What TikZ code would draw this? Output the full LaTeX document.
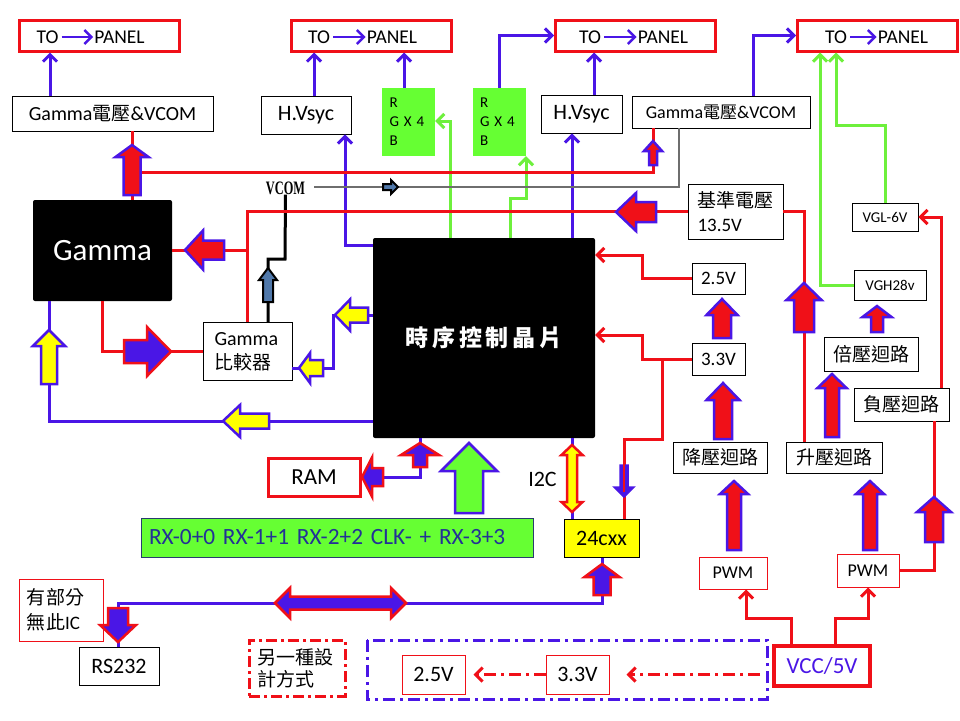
\documentclass[tikz,border=0pt]{standalone}
\usepackage{fontspec}
\setmainfont{Carlito}
\newfontfamily\cjk{Noto Sans CJK TC}
\newfontfamily\vcomfont{Liberation Serif}
\usetikzlibrary{arrows.meta,calc}
\definecolor{myred}{RGB}{240,16,24}
\definecolor{myblue}{RGB}{74,22,230}
\definecolor{mygreen}{RGB}{102,255,51}
\definecolor{lgreen}{RGB}{110,240,60}
\definecolor{myyellow}{RGB}{255,255,0}
\definecolor{navytext}{RGB}{35,50,150}
\definecolor{navyline}{RGB}{40,60,110}
\definecolor{steel}{RGB}{80,120,170}
\definecolor{vgray}{RGB}{110,110,110}
\newcommand{\fsz}[2]{\fontsize{#1}{#2}\selectfont}
\newcommand{\farrow}[8]{%
 \begin{scope}[shift={(#2,#3)},rotate=#4]
 \draw[#1] (0,-#6/2) -- (#5-#8,-#6/2) -- (#5-#8,-#7/2) -- (#5,0) -- (#5-#8,#7/2) -- (#5-#8,#6/2) -- (0,#6/2) -- cycle;
 \end{scope}}
\newcommand{\dfarrow}[8]{%
 \begin{scope}[shift={(#2,#3)},rotate=#4]
 \draw[#1] (0,0) -- (#8,-#7/2) -- (#8,-#6/2) -- (#5-#8,-#6/2) -- (#5-#8,-#7/2) -- (#5,0) -- (#5-#8,#7/2) -- (#5-#8,#6/2) -- (#8,#6/2) -- (#8,#7/2) -- cycle;
 \end{scope}}
\tikzset{
 rline/.style={draw=myred,line width=3pt},
 bline/.style={draw=myblue,line width=3pt},
 gline/.style={draw=lgreen,line width=3pt},
 barb/.style={-{Straight Barb[length=7pt,width=14pt]}},
 panel/.style={draw=myred,line width=3pt,minimum width=160pt,minimum height=31pt,inner sep=0pt},
 ptxt/.style={font=\fsz{19.5}{23},inner sep=1pt},
 wbox/.style={draw=black,line width=0.9pt,fill=white,inner sep=0pt},
 rbox/.style={draw=myred,line width=1pt,fill=white,inner sep=0pt},
 rgbbox/.style={fill=mygreen,minimum width=53pt,minimum height=68pt,inner sep=0pt,text width=38pt,align=left,font=\fsz{15}{19}},
 rbarrow/.style={fill=myred,draw=myblue,line width=2.5pt,line join=miter},
 brarrow/.style={fill=myblue,draw=myred,line width=2.5pt,line join=miter},
 ybarrow/.style={fill=myyellow,draw=myblue,line width=2.5pt,line join=miter},
 yrarrow/.style={fill=myyellow,draw=myred,line width=2.5pt,line join=miter},
 gbarrow/.style={fill=mygreen,draw=myblue,line width=2.5pt,line join=miter},
 sbarrow/.style={fill=steel,draw=black,line width=2pt,line join=miter},
 bbarrow/.style={fill=myblue,draw=myblue,line width=1.5pt,line join=miter},
}
\begin{document}
\begin{tikzpicture}[x=1pt,y=-1pt]
\useasboundingbox (0,0) rectangle (960,720);
\fill[white] (0,0) rectangle (960,720);

% ---------- TO PANEL boxes
\node[panel] (P1) at (99,35.5) {};
\node[ptxt] (p1to) at (47.5,37) {TO};
\node[ptxt] (p1pn) at (119.5,37) {PANEL};
\node[panel] (P2) at (371,35.5) {};
\node[ptxt] (p2to) at (319,37) {TO};
\node[ptxt] (p2pn) at (392,37) {PANEL};
\node[panel] (P3) at (635.5,35.5) {};
\node[ptxt] (p3to) at (590,37) {TO};
\node[ptxt] (p3pn) at (663,37) {PANEL};
\node[panel] (P4) at (877.5,35.5) {};
\node[ptxt] (p4to) at (836,37) {TO};
\node[ptxt] (p4pn) at (903,37) {PANEL};
\foreach \i in {1,2,3,4}{
 \draw[bline,line width=2.5pt,barb,shorten <=2pt] (p\i to.east) -- (p\i pn.west);
}

% ---------- upper boxes
\node[wbox,minimum width=201pt,minimum height=35pt,font=\fsz{20}{24}] (gv1) at (112.5,113.5) {Gamma{\cjk\fsz{19}{24}電壓}\&VCOM};
\node[wbox,minimum width=178pt,minimum height=32pt,font=\fsz{18}{22}] (gv2) at (721,112) {Gamma{\cjk\fsz{17}{22}電壓}\&VCOM};
\node[wbox,minimum width=90pt,minimum height=38pt,font=\fsz{22}{26}] (hv1) at (306,115) {H.Vsyc};
\node[wbox,minimum width=81pt,minimum height=38pt,font=\fsz{22}{26}] (hv2) at (581.5,114) {H.Vsyc};
\node[rgbbox] (rgb1) at (408.5,122) {R\\G X 4\\B};
\node[rgbbox] (rgb2) at (499,122) {R\\G X 4\\B};

% ---------- left blocks
\node[fill=black,rounded corners=2pt,minimum width=139pt,minimum height=101pt,text=white,font=\fsz{31}{36}] (gamma) at (102.5,250.5) {Gamma};
\node[wbox,minimum width=89pt,minimum height=58pt,text width=66pt,align=left,font=\fsz{20}{24}] (cmp) at (247.5,351.5) {Gamma\\{\cjk\fsz{19}{24}比較器}};
\node[fill=black,rounded corners=2pt,minimum width=222pt,minimum height=200pt,text=white,font=\cjk\bfseries\fsz{23}{28}] (chip) at (484,338) {時\,序\,控\,制\,晶\,片};
\node[font=\vcomfont\bfseries\fsz{19}{22},xscale=0.65,inner sep=0pt] (vcoml) at (285.5,188) {VCOM};

% ---------- right blocks
\node[wbox,minimum width=95pt,minimum height=55pt,text width=76pt,align=left,font=\fsz{19}{24}] (ref) at (735.5,211.5) {{\cjk 基準電壓}\\13.5V};
\node[wbox,minimum width=53pt,minimum height=31pt,font=\fsz{19}{23}] (v25) at (718.5,278.5) {2.5V};
\node[wbox,minimum width=53pt,minimum height=32pt,font=\fsz{19}{23}] (v33) at (718.5,359) {3.3V};
\node[wbox,minimum width=94pt,minimum height=31pt,font=\cjk\fsz{19}{23}] (dn) at (720,457.5) {降壓迴路};
\node[wbox,minimum width=96pt,minimum height=31pt,font=\cjk\fsz{19}{23}] (upb) at (834,457.5) {升壓迴路};
\node[wbox,minimum width=94pt,minimum height=34pt,font=\cjk\fsz{19}{23}] (dbl) at (871,354) {倍壓迴路};
\node[wbox,minimum width=95pt,minimum height=33pt,font=\cjk\fsz{19}{23}] (neg) at (901.5,404.5) {負壓迴路};
\node[wbox,minimum width=72pt,minimum height=30pt,font=\fsz{15}{18}] (vgh) at (890,285) {VGH28v};
\node[wbox,minimum width=66pt,minimum height=28pt,font=\fsz{15}{18}] (vgl) at (885,217) {VGL-6V};
\node[rbox,minimum width=68pt,minimum height=32pt,font=\fsz{18}{22}] (pwm1) at (733,573) {PWM};
\node[rbox,minimum width=62pt,minimum height=33pt,font=\fsz{18}{22}] (pwm2) at (868,570.5) {PWM};
\node[draw=myred,fill=white,line width=3.5pt,inner sep=0pt,minimum width=96pt,minimum height=40pt,text=myblue,font=\fsz{23}{27}] (vcc) at (822,666) {VCC/5V};

% ---------- bottom blocks
\node[draw=myred,fill=white,line width=3pt,inner sep=0pt,minimum width=92pt,minimum height=38pt,font=\fsz{23}{27}] (ram) at (314,477) {RAM};
\node[fill=mygreen,draw=navyline,line width=1pt,inner sep=0pt,minimum width=392pt,minimum height=39pt,text width=376pt,align=left,text=navytext,font=\fsz{23.3}{28}] (rx) at (337,537.5) {RX-0+0 RX-1+1 RX-2+2 CLK- + RX-3+3};
\node[fill=myyellow,draw=black,line width=1pt,inner sep=0pt,minimum width=75pt,minimum height=38pt,font=\fsz{22}{26}] (eep) at (601.5,538) {24cxx};
\node[font=\fsz{22}{26},inner sep=0pt] (i2c) at (542.5,479) {I2C};
\node[rbox,minimum width=84pt,minimum height=62pt,text width=68pt,align=left,font=\fsz{19}{25}] (note) at (61,610) {{\cjk 有部分}\\{\cjk 無此}IC};
\node[wbox,minimum width=80pt,minimum height=38pt,font=\fsz{22}{26}] (rs) at (119,666) {RS232};
\node[draw=myred,line width=3pt,dash pattern=on 11pt off 4pt on 3pt off 4pt,inner sep=0pt,minimum width=96pt,minimum height=56pt,text width=80pt,align=left,font=\cjk\fsz{19}{22}] (alt) at (297,668) {另一種設\\計方式};
\draw[draw=myblue,line width=3pt,dash pattern=on 12pt off 5pt on 3pt off 5pt] (367,640) rectangle (767,699);
\node[rbox,minimum width=63pt,minimum height=39pt,font=\fsz{22}{26}] (v25b) at (433.5,674.5) {2.5V};
\node[rbox,minimum width=63pt,minimum height=39pt,font=\fsz{22}{26}] (v33b) at (577.5,674.5) {3.3V};
\coordinate (ddstart) at (760,674.5);

% ---------- connectors: blue
\draw[bline,barb] (50,0 |- gv1.north) -- (50,0 |- P1.south);
\draw[bline,barb] (314,0 |- hv1.north) -- (314,0 |- P2.south);
\draw[bline,barb] (404,0 |- rgb1.north) -- (404,0 |- P2.south);
\draw[bline,barb] (499,0 |- rgb2.north) |- (P3.west);
\draw[bline,barb] (594,0 |- hv2.north) -- (594,0 |- P3.south);
\draw[bline,barb] (753,0 |- gv2.north) |- (P4.west);
\draw[bline,barb] (chip.west |- 0,245) -| (345,0 |- hv1.south);
\draw[bline,barb] (572,0 |- chip.north) -- (572,0 |- hv2.south);
\draw[bline] (chip.west |- 0,315) -- (333,315) -- (333,368) -- (cmp.east |- 0,368);
\draw[bline] (chip.west |- 0,421) -| (49,0 |- gamma.south);
\draw[bline] (420,0 |- chip.south) |- (ram.east);
\draw[bline] (572,0 |- chip.south) -- (572,0 |- eep.north);
\draw[bline] (602,0 |- eep.south) |- (118,603) -- (118,0 |- rs.north);

% ---------- connectors: green
\draw[gline,barb] (450,0 |- chip.north) |- (rgb1.east |- 0,121);
\draw[gline,barb] (510,0 |- chip.north) -- (510,198) -| (526,0 |- rgb2.south);
\draw[gline,barb] (vgh.west) -| (820,0 |- P4.south);
\draw[gline,barb] (885,0 |- vgl.north) -- (885,125) -- (836,125) -- (836,0 |- P4.south);

% ---------- connectors: gray / black (VCOM)
\draw[vgray,line width=2pt] (679,0 |- gv2.south) |- (314,187);
\draw[black,line width=3pt] (268,0 |- cmp.north) |- (285,259) -- (vcoml.south);

% ---------- connectors: red
\draw[rline] (132,0 |- gamma.north) -- (132,0 |- gv1.south);
\draw[rline] (132,172) -| (653,0 |- gv2.south);
\draw[rline] (ref.west) -- (247,0 |- ref.west) -- (247,0 |- cmp.north);
\draw[rline] (gamma.east |- 0,250) -- (247,250);
\draw[rline] (102,0 |- gamma.south) |- (cmp.west);
\draw[rline] (ref.east) -| (804,0 |- upb.north);
\draw[rline,barb] (v25.west) -| (642,255) -- (chip.east |- 0,255);
\draw[rline,barb] (v33.west) -| (642,335) -- (chip.east |- 0,335);
\draw[rline] (662,0 |- v33.west) -- (662,439) -| (624,0 |- eep.north);
\draw[rline,barb] (941,0 |- neg.north) |- (vgl.east);
\draw[rline] (934,0 |- neg.south) |- (pwm2.east);
\draw[rline,barb] (791,0 |- vcc.north) -- (791,618) -| (746,0 |- pwm1.south);
\draw[rline,barb] (835,0 |- vcc.north) -- (835,618) -| (868,0 |- pwm2.south);
\draw[myred,line width=3pt,dash pattern=on 12pt off 5pt on 3pt off 5pt,barb] (ddstart) -- ([xshift=17pt]v33b.east);
\draw[myred,line width=3pt,dash pattern=on 12pt off 5pt on 3pt off 5pt,barb] (v33b.west) -- ([xshift=8pt]v25b.east);

% ---------- fat arrows
\farrow{rbarrow}{132}{195}{90}{50}{17}{33}{12}
\farrow{rbarrow}{653}{165}{90}{24}{8}{18}{10}
\farrow{sbarrow}{383}{187}{0}{15}{6}{14}{7}
\farrow{rbarrow}{224}{250}{180}{39}{19}{39}{18}
\farrow{rbarrow}{656}{212}{180}{40}{20}{38}{20}
\farrow{sbarrow}{268}{302}{90}{34}{10}{18}{12}
\farrow{brarrow}{124}{351.5}{0}{47}{23}{49}{24}
\farrow{ybarrow}{368}{315}{180}{33}{15}{31}{15}
\farrow{ybarrow}{323}{368}{180}{24}{16}{30}{11}
\farrow{ybarrow}{269}{421}{180}{46}{15}{32}{17}
\farrow{ybarrow}{49}{384}{90}{54}{16}{32}{16}
\farrow{rbarrow}{804}{332}{90}{49}{20}{35}{17}
\farrow{rbarrow}{722}{338}{90}{39}{18}{31}{16}
\farrow{rbarrow}{723}{439}{90}{56}{18}{33}{17}
\farrow{rbarrow}{832}{437}{90}{63}{14}{29}{14}
\farrow{rbarrow}{877}{332}{90}{26}{12}{29}{11}
\farrow{rbarrow}{734}{550}{90}{69}{14}{28}{13}
\farrow{rbarrow}{870}{550}{90}{69}{14}{28}{13}
\farrow{rbarrow}{934}{542}{90}{45}{18}{34}{15}
\farrow{brarrow}{602}{595}{90}{31}{17}{35}{13}
\farrow{bbarrow}{624}{465}{270}{32}{8}{20}{10}
\draw[myred,line width=2.5pt] (624,462) -- (624,492);
\farrow{brarrow}{118}{608}{270}{34}{20}{36}{17}
\dfarrow{brarrow}{275}{603}{0}{131}{13}{30}{15}
\dfarrow{yrarrow}{572}{445}{270}{67}{10}{21}{10}
\farrow{brarrow}{420}{467}{90}{24}{14}{38}{12}
\farrow{brarrow}{383}{477}{180}{21}{18}{39}{10}
\farrow{gbarrow}{469}{513}{90}{70}{28}{56}{28}
\end{tikzpicture}
\end{document}
